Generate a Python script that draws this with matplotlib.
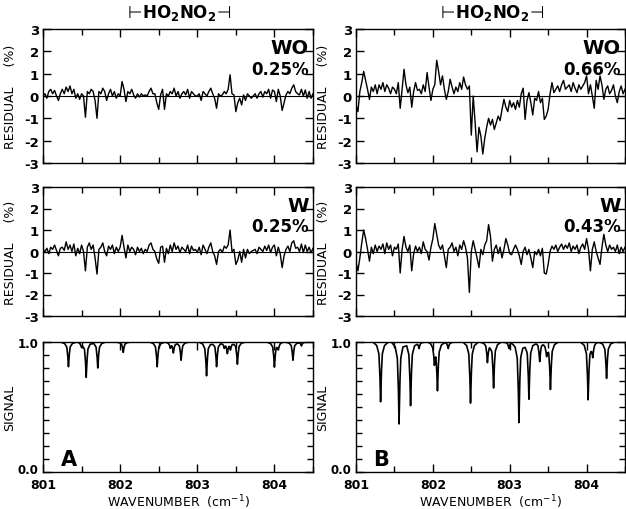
import numpy as np
import matplotlib
matplotlib.use('Agg')
import matplotlib.pyplot as plt
import matplotlib.transforms as mtransforms
from matplotlib.ticker import MultipleLocator, FixedLocator

# ---------------- data ----------------
wn_start, wn_stop = 801.0, 804.5

# residuals (%) sampled every 0.025 cm-1 from 801.0 to 804.5
res_A_WO = [
    0.0, 0.1, -0.1, 0.2, 0.3, 0.1, 0.25, 0.0, -0.2, 0.1,
    0.3, 0.1, 0.4, 0.2, 0.45, 0.1, 0.3, -0.1, 0.1, -0.15,
    0.1, 0.0, -0.95, 0.2, 0.1, 0.3, 0.2, -0.2, -1.0, 0.2,
    0.1, 0.35, 0.2, -0.2, 0.1, 0.3, 0.0, 0.2, -0.1, 0.1,
    0.0, 0.65, 0.3, -0.25, 0.2, 0.1, 0.3, 0.05, -0.1, 0.1,
    -0.05, 0.1, 0.0, 0.05, 0.0, 0.2, 0.35, 0.1, 0.1, -0.3,
    -0.6, 0.05, 0.3, -0.6, 0.1, 0.0, 0.2, 0.1, 0.35, 0.0,
    0.2, -0.1, 0.1, 0.2, 0.05, 0.3, -0.1, 0.2, 0.1, 0.0,
    0.0, 0.1, -0.2, 0.2, 0.1, 0.0, 0.2, 0.35, 0.1, -0.1,
    -0.55, 0.1, 0.0, 0.05, 0.2, 0.1, 0.3, 0.95, 0.1, 0.05,
    -0.7, -0.3, -0.1, -0.4, 0.05, -0.2, 0.1, 0.0, -0.1, 0.0,
    0.1, -0.1, 0.1, 0.2, -0.05, 0.2, 0.1, 0.3, -0.1, 0.27,
    0.2, -0.25, 0.3, 0.0, -0.65, -0.3, 0.05, 0.2, 0.1, 0.35,
    0.5, 0.2, 0.1, 0.05, 0.3, 0.0, 0.27, -0.1, 0.2, -0.1,
    0.1]

res_A_W = [
    0.1, 0.0, 0.15, -0.1, 0.2, 0.1, 0.3, 0.05, -0.2, 0.15,
    0.2, 0.05, 0.45, 0.1, 0.3, 0.0, 0.35, -0.2, 0.15, -0.1,
    0.3, 0.0, -0.9, 0.2, 0.4, 0.1, 0.3, -0.3, -1.05, 0.1,
    0.2, 0.4, 0.0, -0.2, 0.25, 0.1, 0.3, -0.1, 0.2, 0.0,
    0.2, 0.75, 0.2, -0.3, 0.3, 0.0, 0.2, 0.1, -0.15, 0.2,
    0.0, 0.15, -0.1, 0.1, 0.0, 0.3, 0.4, 0.1, 0.0, -0.35,
    -0.55, 0.2, 0.25, -0.5, 0.15, -0.1, 0.3, 0.0, 0.4, 0.1,
    0.25, -0.05, 0.2, 0.1, 0.0, 0.3, -0.1, 0.25, 0.05, 0.1,
    -0.05, 0.2, -0.15, 0.3, 0.1, -0.1, 0.2, 0.4, 0.0, -0.2,
    -0.6, 0.0, 0.1, -0.05, 0.25, 0.15, 0.3, 1.0, 0.0, 0.1,
    -0.6, -0.4, 0.0, -0.5, 0.1, -0.3, 0.1, -0.1, 0.0, 0.05,
    0.1, -0.1, 0.2, 0.1, 0.0, 0.25, 0.05, 0.3, -0.05, 0.2,
    0.3, -0.2, 0.2, -0.1, -0.75, -0.2, 0.1, 0.25, 0.0, 0.4,
    0.5, 0.15, 0.2, 0.0, 0.35, -0.05, 0.3, 0.0, 0.2, -0.05,
    0.15]

res_B_WO = [
    -0.4, -0.7, 0.2, 0.6, 1.1, 0.7, 0.3, -0.15, 0.4, 0.2,
    0.5, 0.1, 0.5, 0.3, 0.6, 0.2, 0.5, 0.35, 0.1, 0.4,
    0.3, 0.1, 0.6, -0.55, 0.3, 1.2, 0.5, 0.15, 0.4, -0.5,
    0.2, 0.6, 0.25, 0.3, 0.1, 0.5, 0.2, 1.05, 0.4, -0.2,
    0.3, 0.5, 1.6, 1.1, 0.5, 0.9, 0.3, -0.15, 0.2, 0.75,
    0.4, 0.1, 0.4, 0.2, 0.6, 0.3, 0.85, 0.5, 0.3, 0.45,
    -1.75, 0.0, -1.2, -2.5, -1.4, -1.8, -2.6, -1.9, -1.4, -1.0,
    -1.3, -1.05, -1.5, -1.2, -0.9, -1.1, -0.6, -0.15, -0.5, -0.7,
    -0.2, -0.5, -0.3, -0.6, -0.2, -0.5, 0.1, 0.35, -1.05, -0.2,
    0.15, -0.3, -0.85, -0.1, -0.2, 0.2, -0.3, -0.1, -1.05, -0.9,
    -0.6, 0.1, 0.6, 0.15, 0.3, 0.45, 0.2, 0.5, 0.7, 0.3,
    0.4, 0.5, 0.2, 0.6, 0.35, 0.15, 0.5, 0.3, 0.45, 0.6,
    0.9, 0.1, 0.5, 0.0, -0.55, 0.7, 0.3, 0.9, 0.5, -0.15,
    0.3, 0.45, 0.1, 0.25, 0.5, 0.0, -0.3, 0.2, 0.45, 0.1,
    0.3]

res_B_W = [
    -0.5, -0.9, -0.3, 0.4, 1.0, 0.6, 0.1, -0.45, 0.2, -0.1,
    0.3, 0.0, 0.25, 0.1, 0.35, -0.1, 0.4, 0.1, 0.3, -0.2,
    0.2, 0.1, 0.35, -1.0, 0.1, 0.7, 0.2, 0.0, 0.3, -0.9,
    -0.1, 0.25, 0.0, 0.2, -0.1, 0.45, 0.1, 0.0, -0.4, 0.2,
    0.6, 1.3, 0.8, 0.3, 0.1, 0.3, -0.2, -0.75, 0.1, 0.2,
    0.4, 0.0, 0.2, -0.2, 0.3, 0.1, 0.5, 0.2, -0.3, -1.9,
    0.0, 0.5, 0.1, -0.3, -0.75, 0.1, -0.15, 0.3, 0.5, 1.25,
    0.7, -0.45, 0.1, 0.3, -0.1, 0.2, -0.3, 0.1, 0.6, 0.3,
    -0.1, -0.15, 0.1, 0.3, 0.1, -0.2, -0.6, 0.0, 0.2, -0.15,
    0.1, -0.3, -0.75, 0.0, -0.15, 0.1, -0.2, 0.15, -1.0, -1.05,
    -0.6, 0.0, 0.25, 0.1, 0.3, 0.0, 0.2, 0.35, 0.1, 0.3,
    0.15, 0.4, 0.0, 0.25, 0.1, 0.3, -0.1, 0.2, 0.35, 0.1,
    0.6, 0.1, -0.9, 0.1, 0.45, 0.0, -0.3, -0.6, 0.2, 0.8,
    0.3, 0.0, 0.3, 0.1, 0.2, 0.0, 0.3, -0.1, 0.2, 0.0,
    0.2]

# absorption lines: centre (cm-1) and minimum signal
lines_A_pos = [801.33, 801.50, 801.56, 801.71, 802.04, 802.48, 802.65, 802.69,
               802.79, 803.12, 803.25, 803.35, 803.39, 803.43, 803.52, 804.00,
               804.05, 804.24, 804.35]
lines_A_min = [0.81, 0.97, 0.73, 0.80, 0.92, 0.81, 0.96, 0.92,
               0.86, 0.74, 0.81, 0.96, 0.92, 0.95, 0.83, 0.81,
               0.95, 0.86, 0.97]

lines_B_pos = [801.32, 801.56, 801.71, 801.82, 802.02, 802.06, 802.20, 802.49,
               802.71, 802.79, 802.99, 803.12, 803.25, 803.39, 803.48, 803.53,
               804.02, 804.08, 804.26]
lines_B_min = [0.54, 0.37, 0.51, 0.95, 0.86, 0.64, 0.95, 0.53,
               0.85, 0.65, 0.95, 0.38, 0.56, 0.85, 0.91, 0.64,
               0.56, 0.90, 0.72]

panel_texts = {"A_WO": ("WO", "0.25%"), "A_W": ("W", "0.25%"),
               "B_WO": ("WO", "0.66%"), "B_W": ("W", "0.43%")}
xticks = [801, 802, 803, 804]
res_ticks = [-3, -2, -1, 0, 1, 2, 3]

# ---------------- figure ----------------
W, H = 626, 510
fig = plt.figure(figsize=(W / 100, H / 100), dpi=100)
fig.patch.set_facecolor('white')

def fx(px):
    return px / W

def fy(py):
    return 1 - py / H

cols = {"A": (43, 313), "B": (356, 625)}
rows = {"WO": (30, 164), "W": (188, 317), "SIG": (343, 473)}

def make_ax(col, row):
    x0, x1 = cols[col]
    y0, y1 = rows[row]
    ax = fig.add_axes([fx(x0), fy(y1), (x1 - x0) / W, (y1 - y0) / H])
    for s in ax.spines.values():
        s.set_linewidth(1.0)
    ax.set_xlim(wn_start, wn_stop)
    ax.xaxis.set_major_locator(FixedLocator(xticks))
    ax.xaxis.set_minor_locator(MultipleLocator(0.5))
    ax.tick_params(which='both', direction='in', top=True, right=True,
                   width=1.0)
    ax.tick_params(which='major', length=6)
    ax.tick_params(which='minor', length=4)
    ax.tick_params(axis='x', pad=4)
    ax.tick_params(axis='y', pad=3)
    return ax

lab_font = dict(family='DejaVu Sans', fontsize=9, fontweight='normal')
tick_font_size = 9.5

for col, res_wo, res_w in (("A", res_A_WO, res_A_W), ("B", res_B_WO, res_B_W)):
    for row, res in (("WO", res_wo), ("W", res_w)):
        ax = make_ax(col, row)
        x = np.linspace(wn_start, wn_stop, len(res))
        ax.axhline(0, color='black', lw=0.8)
        ax.plot(x, res, color='black', lw=1.0)
        ax.set_ylim(-3, 3)
        ax.yaxis.set_major_locator(FixedLocator(res_ticks))
        ax.set_xticklabels([])
        ax.set_yticklabels([str(t) for t in res_ticks], fontweight='bold',
                           fontsize=tick_font_size)
        ax.set_ylabel("RESIDUAL     (%)", **lab_font)
        ax.yaxis.set_label_coords(-0.095, 0.5)
        t1, t2 = panel_texts[col + "_" + row]
        ax.text(0.985, 0.86, t1, transform=ax.transAxes, ha='right',
                va='center', fontsize=14, fontweight='bold')
        ax.text(0.985, 0.70, t2, transform=ax.transAxes, ha='right',
                va='center', fontsize=12, fontweight='bold')

    # signal panel
    ax = make_ax(col, "SIG")
    pos = lines_A_pos if col == "A" else lines_B_pos
    mins = lines_A_min if col == "A" else lines_B_min
    xs = np.linspace(wn_start, wn_stop, 3501)
    prof_off = [-0.10, -0.05, -0.022, -0.009, 0.0, 0.009, 0.022, 0.05, 0.10]
    prof_frac = [0.0, 0.06, 0.2, 0.55, 1.0, 0.55, 0.2, 0.06, 0.0]
    absorb = np.zeros_like(xs)
    for c, m in zip(pos, mins):
        absorb += (1 - m) * np.interp(xs - c, prof_off, prof_frac,
                                      left=0, right=0)
    sig = 1 - absorb
    ax.plot(xs, sig, color='black', lw=1.2)
    ax.set_ylim(0, 1.0)
    ax.yaxis.set_major_locator(FixedLocator([0.0, 1.0]))
    ax.yaxis.set_minor_locator(MultipleLocator(0.1))
    ax.set_yticklabels(["0.0", "1.0"], fontweight='bold', fontsize=8.5)
    ylabs = ax.get_yticklabels()
    ylabs[0].set_transform(ylabs[0].get_transform() +
                           mtransforms.ScaledTranslation(0, 3 / 72,
                                                         fig.dpi_scale_trans))
    ax.set_xticklabels([str(t) for t in xticks], fontweight='bold',
                       fontsize=9)
    ax.set_ylabel("SIGNAL", **lab_font)
    ax.yaxis.set_label_coords(-0.10, 0.5)
    ax.text(801.33, 0.10, col, fontsize=15, fontweight='bold',
            ha='center', va='center')
    xc = (cols[col][0] + cols[col][1]) / 2
    fig.text(fx(xc), fy(502), "WAVENUMBER  (cm$^{-1}$)", ha='center',
             va='center', fontsize=9)
    fig.text(fx(xc), fy(13), r"$\vdash\!\mathbf{HO_2NO_2}\!\dashv$",
             ha='center', va='center', fontsize=12)

fig.savefig("out.png", dpi=100, facecolor='white')
